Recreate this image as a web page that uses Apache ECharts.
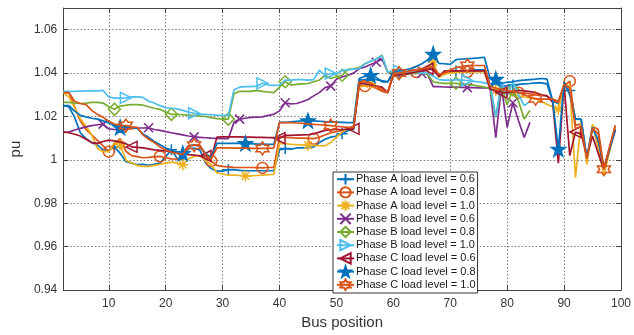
<!DOCTYPE html>
<html>
<head>
<meta charset="utf-8">
<script src="https://cdn.jsdelivr.net/npm/echarts@6/dist/echarts.min.js"></script>
<style>html,body{margin:0;padding:0;background:#fff}#c{width:634px;height:335px}</style>
</head>
<body>
<div id="c"></div>
<script>
const bus = [2,3,4,5,6,7,8,9,10,11,12,13,14,15,16,17,18,19,20,21,22,23,24,25,26,27,28,29,30,31,32,33,34,35,36,37,38,39,40,41,42,43,44,45,46,47,48,49,50,51,52,53,54,55,56,57,58,59,60,61,62,63,64,65,66,67,68,69,70,71,72,73,74,75,76,77,78,79,80,81,82,83,84,85,86,87,88,89,90,91,92,93,94,95,96,97,98,99];
const xTicks = [10,20,30,40,50,60,70,80,90,100];
const seriesNames = ['Phase A load level = 0.6','Phase A load level = 0.8','Phase A load level = 1.0','Phase B load level = 0.6','Phase B load level = 0.8','Phase B load level = 1.0','Phase C load level = 0.6','Phase C load level = 0.8','Phase C load level = 1.0'];

const phaseA06 = [1.025,1.0245,1.0196,1.0125,1.0098,1.008,1.0068,1.0046,1.0045,1.006,
1.003,0.9993,0.9985,0.9978,0.998,0.9975,0.998,0.9985,1.0015,1.0047,
1.0007,1.0,1.0053,1.0053,1.0046,0.9986,0.996,0.9948,0.9948,0.9955,
0.9955,0.9952,0.995,0.995,0.995,0.995,0.995,0.995,1.0046,1.0052,
1.005,1.0055,1.0055,1.0056,1.006,1.008,1.0095,1.0105,1.011,1.012,
1.0135,1.014,1.0368,1.037,1.0375,1.037,1.0365,1.036,1.0395,1.040,
1.0405,1.041,1.0415,1.042,1.042,1.0425,1.0385,1.040,1.0405,1.041,
1.041,1.0412,1.0415,1.0415,1.0415,1.035,1.035,1.034,1.0342,1.0345,
1.0348,1.035,1.0352,1.0355,1.0355,1.035,1.027,1.026,1.034,1.032,
1.019,1.0185,1.0005,1.0155,1.008,0.996,1.005,1.0145];
const phaseA08 = [1.031,1.031,1.0245,1.018,1.014,1.0115,1.009,1.0065,1.0038,1.0075,
1.0098,1.004,1.002,1.0015,1.001,1.0012,1.0015,1.0016,1.001,1.0005,
1.0003,1.0005,1.0062,1.007,1.0065,1.002,0.9995,0.9975,0.997,0.9968,
0.9966,0.9965,0.9965,0.9965,0.9964,0.9963,0.9965,0.9965,1.0106,1.0104,
1.0102,1.01,1.01,1.0099,1.0098,1.0105,1.0115,1.0125,1.013,1.0136,
1.014,1.0145,1.0345,1.034,1.034,1.033,1.0316,1.031,1.0395,1.040,
1.040,1.0402,1.0405,1.041,1.0415,1.042,1.039,1.040,1.0403,1.0405,
1.0405,1.0405,1.0408,1.041,1.041,1.0335,1.033,1.032,1.0318,1.0315,
1.031,1.0308,1.0305,1.030,1.0298,1.0295,1.0275,1.0265,1.034,1.0363,
1.016,1.0165,1.000,1.0155,1.014,0.996,1.006,1.0155];
const phaseA10 = [1.031,1.029,1.024,1.019,1.0155,1.0115,1.0053,1.0038,1.0038,1.008,
1.007,1.0,0.9986,0.9975,0.997,0.997,0.9975,0.998,0.9985,0.999,
0.9985,0.9978,1.0005,1.0016,1.002,0.9995,0.998,0.994,0.9935,0.993,
0.993,0.9928,0.9926,0.9926,0.9928,0.993,0.9932,0.9933,1.0076,1.0075,
1.0072,1.007,1.0068,1.0068,1.0067,1.0066,1.0065,1.008,1.0105,1.0128,
1.0145,1.015,1.0338,1.034,1.035,1.034,1.0325,1.031,1.039,1.0395,
1.040,1.0405,1.041,1.0415,1.042,1.045,1.038,1.0395,1.040,1.0402,
1.0405,1.0405,1.0405,1.0405,1.0405,1.0325,1.032,1.031,1.0305,1.030,
1.0295,1.029,1.0285,1.028,1.027,1.0255,1.0245,1.0233,1.033,1.0345,
0.9918,1.018,0.9978,1.0165,1.005,0.993,1.004,1.015];
const phaseB06 = [1.0128,1.0128,1.0138,1.0145,1.0152,1.0158,1.0162,1.0165,1.0143,1.014,
1.0138,1.0142,1.0145,1.0147,1.0147,1.0148,1.014,1.0136,1.013,1.0125,
1.012,1.0115,1.011,1.0106,1.0104,1.0102,1.01,1.0099,1.0098,1.0098,
1.0173,1.0188,1.0192,1.0196,1.0197,1.0198,1.0205,1.021,1.0226,1.0263,
1.0258,1.026,1.0268,1.0278,1.0295,1.031,1.0333,1.034,1.0372,1.0382,
1.039,1.040,1.042,1.0428,1.044,1.045,1.0465,1.0405,1.039,1.0392,
1.0395,1.0397,1.040,1.0398,1.0395,1.0338,1.0338,1.0336,1.0335,1.0335,
1.0334,1.0333,1.0333,1.0332,1.0332,1.033,1.0103,1.0335,1.015,1.0263,
1.018,1.0103,1.0173];
const phaseB08 = [1.0265,1.0265,1.0262,1.026,1.0262,1.0265,1.0265,1.0262,1.0245,1.0233,
1.0248,1.0252,1.0255,1.0255,1.0252,1.0245,1.0238,1.0233,1.022,1.021,
1.021,1.0208,1.0206,1.0205,1.0202,1.02,1.0195,1.019,1.0188,1.0188,
1.0305,1.0316,1.0316,1.0316,1.032,1.0316,1.0313,1.031,1.0335,1.036,
1.0345,1.0348,1.035,1.0352,1.036,1.0368,1.039,1.0375,1.0383,1.039,
1.0417,1.042,1.0425,1.0443,1.0455,1.0465,1.0483,1.0405,1.040,1.040,
1.040,1.0398,1.040,1.040,1.0395,1.036,1.0355,1.0353,1.0353,1.0353,
1.035,1.0348,1.0345,1.034,1.0335,1.033,1.0196,1.0338,1.0253,1.0323,
1.027,1.0188,1.0228];
const phaseB10 = [1.0316,1.0316,1.0316,1.0317,1.0318,1.0318,1.0318,1.032,1.029,1.0285,
1.0285,1.0286,1.029,1.029,1.0288,1.027,1.0262,1.025,1.024,1.0238,
1.0235,1.0228,1.022,1.0215,1.021,1.021,1.0208,1.0206,1.0205,1.0205,
1.0323,1.0335,1.0338,1.0338,1.034,1.0353,1.0345,1.0343,1.0345,1.0368,
1.0368,1.037,1.037,1.0368,1.037,1.0413,1.039,1.0398,1.0395,1.0413,
1.0415,1.0418,1.042,1.0443,1.0455,1.0465,1.048,1.0405,1.041,1.041,
1.0405,1.0405,1.0405,1.040,1.040,1.0385,1.037,1.0368,1.0368,1.037,
1.0368,1.0366,1.0362,1.036,1.0355,1.035,1.020,1.036,1.0293,1.036,
1.030,1.025,1.027];
const phaseC06 = [1.0128,1.0125,1.0118,1.011,1.0095,1.008,1.0076,1.0085,1.0091,1.0088,
1.0082,1.0075,1.006,1.0058,1.0055,1.0051,1.0046,1.0044,1.0041,1.0038,
1.0033,1.003,1.0024,1.0022,1.0019,1.0018,1.0005,1.0105,1.0106,1.0106,
1.0106,1.0106,1.0105,1.0105,1.0104,1.0104,1.0103,1.0103,1.010,1.0113,
1.0113,1.0114,1.0115,1.0116,1.012,1.0128,1.0136,1.0138,1.014,1.014,
1.0142,1.0143,1.0353,1.035,1.0345,1.034,1.0335,1.031,1.039,1.0392,
1.0395,1.040,1.0405,1.041,1.042,1.0415,1.0385,1.041,1.041,1.041,
1.041,1.041,1.041,1.041,1.041,1.0326,1.0318,1.031,1.031,1.0315,
1.032,1.0318,1.0315,1.031,1.030,1.0295,1.0265,0.9985,1.035,1.002,
1.0128,1.012,1.0016,1.011,1.003,0.9957,1.005,1.0137];
const phaseC08 = [1.025,1.025,1.0225,1.0205,1.0198,1.0192,1.0188,1.018,1.017,1.016,
1.015,1.015,1.0148,1.0145,1.012,1.0103,1.0085,1.007,1.0055,1.0045,
1.0035,1.003,1.0065,1.0068,1.0065,1.003,1.001,1.0076,1.0076,1.0076,
1.0076,1.0076,1.0076,1.0075,1.0073,1.0073,1.0072,1.0072,1.0173,1.0173,
1.0175,1.0178,1.018,1.0181,1.018,1.0178,1.0176,1.0175,1.0174,1.0173,
1.0172,1.0172,1.0375,1.0385,1.039,1.038,1.036,1.036,1.0405,1.041,
1.0415,1.042,1.043,1.0443,1.046,1.0488,1.0445,1.0443,1.044,1.0462,
1.0465,1.0467,1.0468,1.047,1.0473,1.0375,1.0372,1.0353,1.0358,1.036,
1.0365,1.0368,1.037,1.0372,1.0375,1.0372,1.027,1.005,1.036,1.030,
1.0188,1.0188,1.001,1.015,1.009,0.9962,1.005,1.014];
const phaseC10 = [1.031,1.031,1.027,1.026,1.0255,1.0228,1.021,1.0196,1.0178,1.0165,
1.016,1.0158,1.0152,1.015,1.0115,1.0095,1.008,1.006,1.0046,1.0035,
1.003,1.0025,1.0065,1.0068,1.0068,1.0025,1.0005,1.0055,1.0055,1.0055,
1.0054,1.0054,1.0054,1.0053,1.0053,1.0053,1.0053,1.0055,1.0173,1.0172,
1.0172,1.017,1.0168,1.0166,1.0164,1.0162,1.016,1.0158,1.0155,1.0152,
1.015,1.015,1.036,1.036,1.0355,1.034,1.0323,1.031,1.0398,1.040,
1.0405,1.041,1.0415,1.042,1.0425,1.043,1.0395,1.040,1.0415,1.0425,
1.043,1.0435,1.0435,1.0435,1.0435,1.034,1.033,1.0325,1.032,1.0315,
1.031,1.030,1.029,1.0282,1.028,1.028,1.028,1.027,1.035,1.033,
1.0145,1.0155,1.0005,1.0145,1.012,0.9957,1.006,1.016];

const allValues = [phaseA06,phaseA08,phaseA10,phaseB06,phaseB08,phaseB10,phaseC06,phaseC08,phaseC10];

// styles
const colors = ['#0072BD','#D95319','#EDB120','#7E2F8E','#77AC30','#4DBEEE','#A2142F','#0072BD','#D95319'];
const P = {
  plus: 'path://M5,0L5,10M0,5L10,5',
  cross: 'path://M0,0L10,10M10,0L0,10',
  aster: 'path://M5,0L5,10M0,5L10,5M1.5,1.5L8.5,8.5M8.5,1.5L1.5,8.5',
  triR: 'path://M0,0L10,5L0,10Z',
  triL: 'path://M10,0L0,5L10,10Z',
  penta: 'path://M5,0L6.176,3.382L9.755,3.455L6.902,5.618L7.939,9.045L5,7L2.061,9.045L3.098,5.618L0.245,3.455L3.824,3.382Z',
  hexa: 'path://M5,0L6.443,2.5L9.33,2.5L7.887,5L9.33,7.5L6.443,7.5L5,10L3.557,7.5L0.67,7.5L2.113,5L0.67,2.5L3.557,2.5Z'
};
const markerStyle = [
  {symbol: P.plus, size: 11, start: 11, step: 10, fill: false},
  {symbol: 'circle', size: 11, start: 10, step: 9, fill: false},
  {symbol: P.aster, size: 11, start: 12, step: 11, fill: false},
  {symbol: P.cross, size: 9, start: 9, step: 8, fill: false},
  {symbol: 'diamond', size: 12, start: 11, step: 10, fill: false},
  {symbol: P.triR, size: 11, start: 13, step: 12, fill: false},
  {symbol: P.triL, size: 11, start: 14, step: 13, fill: false},
  {symbol: P.penta, size: 14, start: 12, step: 11, fill: true},
  {symbol: P.hexa, size: 13, start: 13, step: 12, fill: false}
];

const series = allValues.map((vals, k) => {
  const m = markerStyle[k];
  const data = vals.map((v, i) => {
    const n = bus[i];
    const item = {value: [n, v]};
    if (!(n >= m.start && (n - m.start) % m.step === 0)) item.symbol = 'none';
    return item;
  });
  return {
    name: seriesNames[k],
    type: 'line',
    data: data,
    symbol: m.symbol,
    symbolSize: m.size,
    showSymbol: true,
    showAllSymbol: true,
    lineStyle: {color: colors[k], width: 1.7},
    itemStyle: {color: m.fill ? colors[k] : 'rgba(255,255,255,0)', borderColor: colors[k], borderWidth: 1.5},
    emphasis: {disabled: true},
    z: 2 + k
  };
});

const font = '"Liberation Sans", Arial, Helvetica, sans-serif';
const gridLine = {show: true, lineStyle: {color: '#7a7a7a', type: [1.5, 2], width: 1}};
const chart = echarts.init(document.getElementById('c'), null, {renderer: 'canvas'});
chart.setOption({
  animation: false,
  backgroundColor: '#fff',
  textStyle: {fontFamily: font},
  grid: {left: 56, right: 8, top: 8, bottom: 38, show: false},
  legend: {
    orient: 'vertical', left: 333, top: 172,
    itemWidth: 17, itemHeight: 13, itemGap: 0.8,
    padding: [1, 2, 2, 3],
    borderColor: '#333', borderWidth: 1, backgroundColor: '#fff',
    textStyle: {fontSize: 11, color: '#1a1a1a', fontFamily: font, padding: [0, 0, 0, -3]},
    data: seriesNames
  },
  xAxis: [{
    type: 'value', min: 2, max: 100,
    name: 'Bus position', nameLocation: 'middle', nameGap: 23,
    nameTextStyle: {fontSize: 15, color: '#333', fontFamily: font},
    axisLine: {show: true, lineStyle: {color: '#444', width: 1}},
    axisTick: {show: true, inside: true, length: 5, customValues: xTicks, lineStyle: {color: '#444'}},
    axisLabel: {show: true, customValues: xTicks, fontSize: 12, color: '#333', margin: 8, fontFamily: font},
    splitLine: gridLine
  }, {
    type: 'value', min: 2, max: 100, position: 'top',
    axisLine: {show: true, lineStyle: {color: '#444', width: 1}},
    axisTick: {show: true, inside: true, length: 5, customValues: xTicks, lineStyle: {color: '#444'}},
    axisLabel: {show: false},
    splitLine: {show: false}
  }],
  yAxis: [{
    type: 'value', min: 0.94, max: 1.07, interval: 0.02,
    name: 'pu', nameLocation: 'middle', nameGap: 30,
    nameTextStyle: {fontSize: 15, color: '#333', fontFamily: font},
    axisLine: {show: true, lineStyle: {color: '#444', width: 1}},
    axisTick: {show: true, inside: true, length: 5, lineStyle: {color: '#444'}},
    axisLabel: {fontSize: 12, color: '#333', margin: 6, fontFamily: font,
      formatter: v => (v > 1.065 ? '' : String(Math.round(v * 100) / 100))},
    splitLine: gridLine
  }, {
    type: 'value', min: 0.94, max: 1.07, interval: 0.02, position: 'right',
    axisLine: {show: true, lineStyle: {color: '#444', width: 1}},
    axisTick: {show: true, inside: true, length: 5, lineStyle: {color: '#444'}},
    axisLabel: {show: false},
    splitLine: {show: false}
  }],
  series: series
});
</script>
</body>
</html>
